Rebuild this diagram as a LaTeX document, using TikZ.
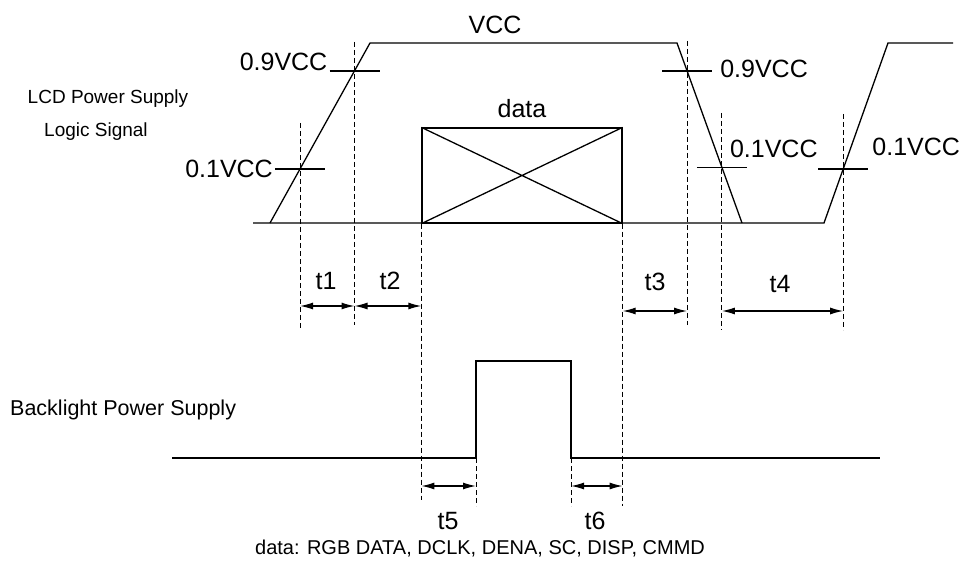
\documentclass[tikz,border=0pt]{standalone}
\usepackage{fontspec}
\setmainfont{Liberation Sans}
\usetikzlibrary{arrows.meta,calc}

\begin{document}
\begin{tikzpicture}
[x=1pt,y=-1pt,
wave/.style={line width=1.3pt},
guide/.style={dash pattern=on 5pt off 3pt,line width=1pt},
lvl/.style={line width=1.3pt},
span/.style={{Latex[length=13pt,width=7pt]}-{Latex[length=13pt,width=7pt]},line width=1.3pt},
big/.style={font=\fontsize{25}{29}\selectfont,inner sep=0pt},
small/.style={font=\fontsize{19}{23}\selectfont,inner sep=0pt}]
\useasboundingbox (0,0) rectangle (962,569);
%%%%% LCD POWER SUPPLY
\coordinate (base0) at (253,223);
\coordinate (b0) at (270,223);
\coordinate (r1) at (370,43);
\coordinate (f1) at (677,43);
\coordinate (b1) at (742,223);
\coordinate (b2) at (824,223);
\coordinate (r2) at (888,43);
\coordinate (e2) at (953,43);
\draw[wave] (base0) -- (b2) -- (r2) -- (e2);
\draw[wave] (b0) -- (r1) -- (f1) -- (b1);
% level crossings
\coordinate (c1) at ($(b0)!0.3!(r1)$);
\coordinate (c2) at ($(b0)!0.845!(r1)$);
\coordinate (c3) at ($(f1)!0.155!(b1)$);
\coordinate (c4) at ($(f1)!0.69!(b1)$);
\coordinate (c5) at ($(b2)!0.3!(r2)$);
\foreach \i in {1,...,5}
	\draw[lvl] ([xshift=-25pt]c\i) -- ([xshift=25pt]c\i);
\node[big,anchor=base east] (l09a) at ([xshift=-27pt]c2) {0.9VCC};
\node[big,anchor=east] (l01a) at ([xshift=-27pt]c1) {0.1VCC};
\node[big,anchor=west] (l09b) at ([xshift=33pt,yshift=2pt]c3) {0.9VCC};
\node[big,anchor=base west] (l01b) at ([xshift=8pt,yshift=10pt]c4) {0.1VCC};
\node[big,anchor=base west] (l01c) at ([xshift=29pt,yshift=13pt]c5) {0.1VCC};
\node[big] (vcc) at (495,25) {VCC};
%%%%% DATA
\node[draw,line width=1.3pt,minimum width=200pt,minimum height=95pt,inner sep=0pt] (box) at (522,175.5) {};
\draw[wave] (box.north west) -- (box.south east) (box.south west) -- (box.north east);
\node[big] (data) at (522,109) {data};
%%%%% BACKLIGHT
\coordinate (k0) at (172,458);
\coordinate (k1) at (476,458);
\coordinate (k2) at (476,361);
\coordinate (k3) at (571,361);
\coordinate (k4) at (571,458);
\coordinate (k5) at (880,458);
\draw[wave] (k0) -- (k1) -- (k2) -- (k3) -- (k4) -- (k5);
%%%%% GUIDES
\draw[guide] (c1 |- 0,123) -- (c1 |- 0,329);
\draw[guide] (c2 |- 0,42) -- (c2 |- 0,325);
\draw[guide] (box.south west) -- ++(0,276);
\draw[guide] (box.south east) -- ++(0,282);
\draw[guide] (c3 |- 0,41) -- (c3 |- 0,325);
\draw[guide] (c4 |- 0,113) -- (c4 |- 0,330);
\draw[guide] (c5 |- 0,114) -- (c5 |- 0,330);
\draw[guide] (k1) -- ++(0,48);
\draw[guide] (k4) -- ++(0,48);
%%%%% TIMES
\draw[span] (c1 |- 0,306) -- (c2 |- 0,306);
\draw[span] (c2 |- 0,306) -- (box.south west |- 0,306);
\draw[span] (box.south east |- 0,311) -- (c3 |- 0,311);
\draw[span] (c4 |- 0,311) -- (c5 |- 0,311);
\draw[span] (box.south west |- 0,486) -- (k1 |- 0,486);
\draw[span] (k4 |- 0,486) -- (box.south east |- 0,486);
\node[big] (t1) at (326,281) {t1};
\node[big] (t2) at (390,281) {t2};
\node[big] (t3) at (655,282) {t3};
\node[big] (t4) at (780,284) {t4};
\node[big] (t5) at (448,521) {t5};
\node[big] (t6) at (595,521) {t6};
%%%%% TEXT
\node[small] (lcd) at (108,99) {LCD Power Supply};
\node[small] (logic) at (96,132) {Logic Signal};
\node[font=\fontsize{21.5}{25}\selectfont,inner sep=0pt,anchor=west] (bl) at (10,410) {Backlight Power Supply};
\node[font=\fontsize{20}{24}\selectfont,inner sep=0pt] (note) at (480,549) {data: RGB DATA, DCLK, DENA, SC, DISP, CMMD};
\end{tikzpicture}
\end{document}
